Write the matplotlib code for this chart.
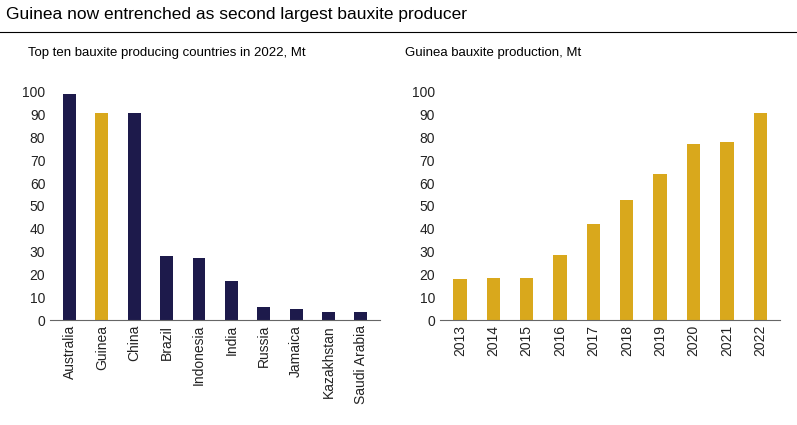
import matplotlib
matplotlib.use('Agg')
import matplotlib.pyplot as plt

NAVY = "#1d1a4b"
GOLD = "#d9a81c"

countries = ["Australia", "Guinea", "China", "Brazil", "Indonesia", "India",
             "Russia", "Jamaica", "Kazakhstan", "Saudi Arabia"]
country_mt = [99, 90.5, 90.5, 28, 27, 17, 5.5, 5, 3.5, 3.5]

years = ["2013", "2014", "2015", "2016", "2017", "2018", "2019", "2020", "2021", "2022"]
guinea_mt = [18, 18.5, 18.5, 28.5, 42, 52.5, 64, 77, 78, 90.5]

plt.rcParams['font.family'] = ['Liberation Sans', 'DejaVu Sans']

fig = plt.figure(figsize=(7.97, 4.25), dpi=100)
fig.text(0.008, 0.965, "Guinea now entrenched as second largest bauxite producer",
         fontsize=12.5, va="center")
fig.add_artist(plt.Line2D([0, 1], [0.925, 0.925], color="black", linewidth=0.8))

ax1 = fig.add_axes([0.063, 0.247, 0.414, 0.537])
ax2 = fig.add_axes([0.552, 0.247, 0.427, 0.537])

colors1 = [GOLD if c == "Guinea" else NAVY for c in countries]
ax1.bar(countries, country_mt, color=colors1, width=0.4)
ax2.bar(years, guinea_mt, color=GOLD, width=0.4)

fig.text(0.035, 0.875, "Top ten bauxite producing countries in 2022, Mt", fontsize=9.5, va="center")
fig.text(0.508, 0.875, "Guinea bauxite production, Mt", fontsize=9.5, va="center")

for ax in (ax1, ax2):
    ax.set_ylim(0, 100)
    ax.set_yticks(range(0, 101, 10))
    ax.set_xlim(-0.6, 9.6)
    for s in ("top", "right", "left"):
        ax.spines[s].set_visible(False)
    ax.spines["bottom"].set_color("#666666")
    ax.tick_params(axis="y", length=0, labelsize=10, colors="#222222")
    ax.tick_params(axis="x", length=0, labelsize=10, rotation=90, colors="#222222")

fig.savefig("out.png", dpi=100)
